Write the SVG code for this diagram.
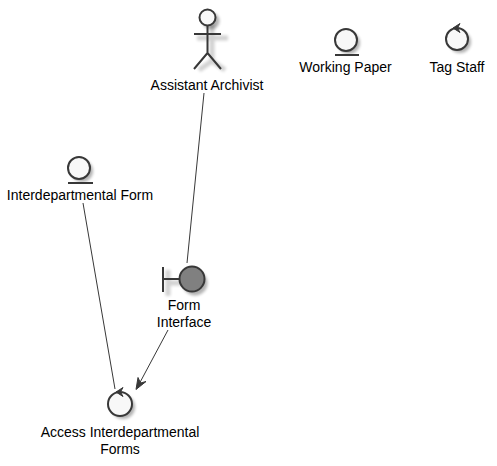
<svg xmlns="http://www.w3.org/2000/svg" width="497" height="466" viewBox="0 0 497 466">
<style>
text{font-family:"Liberation Sans",Arial,sans-serif;font-size:14px;fill:#000;text-anchor:middle}
.s{fill:none;stroke:#383838;stroke-width:2}
.c{fill:#F8F8F8;stroke:#383838;stroke-width:2}
.a{fill:#383838;stroke:#383838;stroke-width:1}
.sh{fill:#000;opacity:.3;filter:url(#b)}
.shl{fill:none;stroke:#000;opacity:.2;stroke-width:2;filter:url(#b)}
.l{fill:none;stroke:#383838;stroke-width:1}
</style>
<defs><filter id="b" x="-50%" y="-50%" width="200%" height="200%"><feGaussianBlur stdDeviation="1.5"/></filter></defs>
<rect width="497" height="466" fill="#fff"/>
<g id="connectors">
<line class="l" x1="204" y1="93" x2="187" y2="263"/>
<line class="l" x1="83" y1="203" x2="115" y2="389"/>
<line class="l" x1="168" y1="330" x2="137" y2="388"/>
<path class="a" d="M136 389.500L138 377.500L140.500 383L146 381.500Z"/>
</g>
<g id="assistant-archivist">
<circle class="sh" cx="211" cy="21" r="8.500"/>
<path d="M197 38H228M212 24V61L225 70M212 61L199 70" fill="none" stroke="#000" stroke-width="5" opacity=".18" filter="url(#b)"/>
<circle class="c" cx="207.500" cy="17.500" r="8"/>
<path class="s" d="M207.500 25.500V53M194 34H221M207.500 53L194 69M207.500 53L221 69"/>
<text x="207" y="90">Assistant Archivist</text>
</g>
<g id="working-paper">
<circle class="sh" cx="349" cy="43" r="11"/>
<circle class="c" cx="346" cy="40" r="11"/>
<line class="s" x1="335" y1="55" x2="359" y2="55"/>
<text x="345.500" y="72">Working Paper</text>
</g>
<g id="tag-staff">
<circle class="sh" cx="460" cy="42" r="11"/>
<circle class="c" cx="457" cy="39" r="11"/>
<path class="a" d="M453 28L460 23.500L457.500 28L460 32.500Z"/>
<text x="457" y="72">Tag Staff</text>
</g>
<g id="interdepartmental-form">
<circle class="sh" cx="82" cy="171" r="11"/>
<circle class="c" cx="79" cy="168" r="11"/>
<line class="s" x1="68" y1="183" x2="93" y2="183"/>
<text x="80" y="200">Interdepartmental Form</text>
</g>
<g id="form-interface">
<path d="M168 270V296M168 283H182" fill="none" stroke="#000" stroke-width="5" opacity=".18" filter="url(#b)"/>
<circle class="sh" cx="195" cy="283" r="12.500"/>
<circle cx="192" cy="279" r="12.500" fill="#808080" stroke="#383838" stroke-width="2"/>
<path class="s" d="M163 267V292M163 279H179"/>
<text x="184" y="310">Form</text>
<text x="184" y="327">Interface</text>
</g>
<g id="access-interdepartmental-forms">
<circle class="sh" cx="123" cy="407" r="12"/>
<circle class="c" cx="120" cy="404" r="12"/>
<path class="a" d="M116 392L123 387.500L120.500 392L123 396.500Z"/>
<text x="120" y="437">Access Interdepartmental</text>
<text x="120" y="454">Forms</text>
</g>
</svg>
